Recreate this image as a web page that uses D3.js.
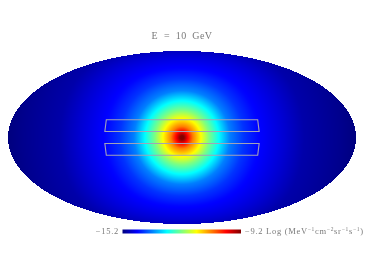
<!DOCTYPE html>
<html><head><meta charset="utf-8">
<script src="https://cdn.jsdelivr.net/npm/d3@7"></script>
<style>
html,body{margin:0;padding:0;background:#fff;overflow:hidden}
#wrap{position:relative;width:374px;height:264px}
canvas,svg{position:absolute;left:0;top:0}
canvas{filter:blur(0.4px)}
svg{filter:blur(0.35px)}
text{font-family:"Liberation Serif",serif;fill:#7a7a7a;white-space:pre}
</style></head><body>
<div id="wrap"><canvas id="map" width="374" height="264"></canvas><svg id="ov" width="374" height="264"></svg></div>
<script>
const titleText = "E  =  10  GeV";
const colorMin = -15.2, colorMax = -9.2;
const jetStops = ["#00007f","#0000ff","#007fff","#00ffff","#7fff7f","#ffff00","#ff7f00","#ff0000","#7f0000"];
// log flux against scaled distance from the map centre
const profileDist = [0,2,6,11,19,27,37,48,62,76,102,122,160,174];
const profileVal = [-9.2,-9.25,-9.95,-10.7,-11.45,-12.2,-12.95,-13.7,-14.15,-14.42,-14.71,-14.95,-15.12,-15.2];
// region outlines: longitude and latitude limits in degrees
const regionLon = [-80, 80];
const regionLatNorth = [5, 15];
const regionLatSouth = [-15, -5];

const cx = 182, cy = 137.5, rx = 174, ry = 86.5;
const colour = d3.scaleLinear().domain(d3.range(jetStops.length).map(i => colorMin + (colorMax-colorMin)*i/(jetStops.length-1))).range(jetStops).clamp(true);
const profile = d3.scaleLinear().domain(profileDist).range(profileVal).clamp(true);

function project(lon, lat){
  const p = lat*Math.PI/180; let t = p;
  for(let i=0;i<40;i++){ t -= (2*t+Math.sin(2*t)-Math.PI*Math.sin(p))/(2+2*Math.cos(2*t)+1e-9); }
  return [cx - rx*(lon/180)*Math.cos(t), cy - ry*Math.sin(t)];
}
const ctx = document.getElementById("map").getContext("2d");
const img = ctx.createImageData(374,264);
for(let y=0;y<264;y++)for(let x=0;x<374;x++){
  const dx=x+.5-cx, dy=cy-y-.5, nx=dx/rx, ny=dy/ry;
  const k=4*(y*374+x);
  if(nx*nx+ny*ny>1){img.data[k]=255;img.data[k+1]=255;img.data[k+2]=255;img.data[k+3]=255;continue;}
  const yk=1+0.28*Math.pow(Math.abs(dy)/86,4);
  const q=Math.hypot(dx,dy*yk);
  const c=d3.rgb(colour(profile(q)));
  img.data[k]=c.r;img.data[k+1]=c.g;img.data[k+2]=c.b;img.data[k+3]=255;
}
ctx.putImageData(img,0,0);

const svg=d3.select("#ov");
[regionLatNorth,regionLatSouth].forEach(lat=>{
  const pts=[];
  d3.range(regionLon[0],regionLon[1]+1,4).forEach(l=>pts.push(project(l,lat[0])));
  d3.range(regionLon[1],regionLon[0]-1,-4).forEach(l=>pts.push(project(l,lat[1])));
  svg.append("path").attr("d",d3.line().curve(d3.curveLinearClosed)(pts)).attr("fill","none").attr("stroke","#a2a2b8").attr("stroke-width",1.1);
});
svg.append("text").attr("x",182).attr("y",38.5).attr("text-anchor","middle").attr("font-size",10).attr("letter-spacing",0.4).text(titleText);

const defs=svg.append("defs");
const grad=defs.append("linearGradient").attr("id","jet");
jetStops.forEach((c,i)=>grad.append("stop").attr("offset",i/(jetStops.length-1)).attr("stop-color",c));
const barX=d3.scaleLinear().domain([colorMin,colorMax]).range([122.5,241]);
svg.append("rect").attr("x",barX(colorMin)).attr("y",229.5).attr("width",barX(colorMax)-barX(colorMin)).attr("height",4).attr("fill","url(#jet)");
svg.append("text").attr("x",119).attr("y",234).attr("text-anchor","end").attr("font-size",8.5).attr("letter-spacing",0.7).text("\u221215.2");
const lab=svg.append("text").attr("x",245).attr("y",234).attr("font-size",8.5).attr("letter-spacing",0.7);
lab.append("tspan").text("\u22129.2 Log (MeV");
[["\u22121","cm"],["\u22122","sr"],["\u22121","s"],["\u22121",")"]].forEach(([s,a])=>{
  lab.append("tspan").attr("font-size",5.5).attr("dy",-3).text(s);
  lab.append("tspan").attr("dy",3).text(a);
});
</script></body></html>
